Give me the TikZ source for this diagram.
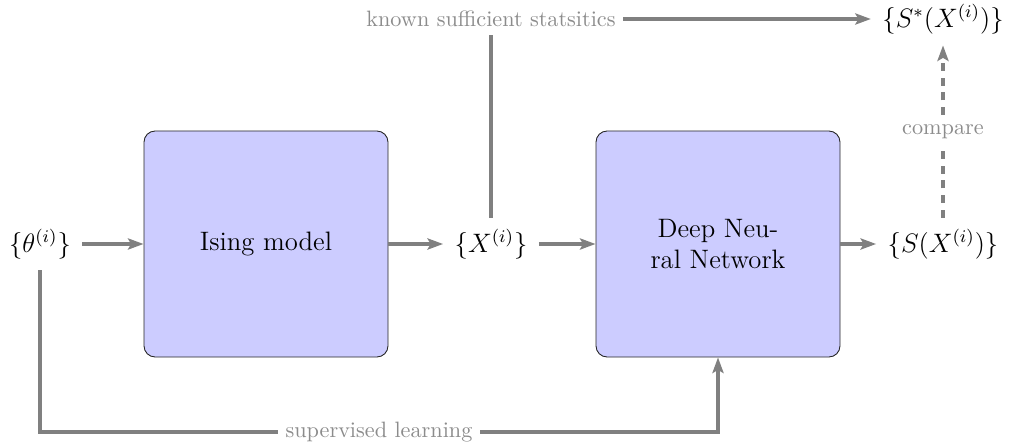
\documentclass[tikz,border=0pt]{standalone}
\usetikzlibrary{arrows.meta}
\begin{document}
\begin{tikzpicture}[x=0.45pt,y=-0.45pt,
  blockbox/.style={draw=black!85, fill=blue!20, rounded corners=5pt, minimum width=109.8pt, minimum height=101.7pt, align=center, font=\large, inner sep=0pt},
  mathnode/.style={font=\large, inner sep=5pt},
  lbl/.style={text=black!45, fill=white, font=\normalsize},
  conn/.style={draw=black!50, line width=1.5pt},
  arr/.style={conn, -{Stealth[length=7pt,width=5pt,inset=1.4pt]}}
]
\useasboundingbox (0,0) rectangle (1009,445);
\node[mathnode] (theta) at (40,244) {$\{\theta^{(i)}\}$};
\node[blockbox] (ising) at (266,244) {Ising model};
\node[mathnode] (X) at (491,244) {$\{X^{(i)}\}$};
\node[blockbox] (dnn) at (718,244) {Deep Neu-\\ral Network};
\node[mathnode] (S) at (943,244) {$\{S(X^{(i)})\}$};
\node[mathnode] (Sstar) at (943,19) {$\{S^{*}(X^{(i)})\}$};
\node[lbl] (kss) at (X |- Sstar) {known sufficient statsitics};
\coordinate (bl) at (40,432);
\coordinate (br) at (718,432);

\draw[arr] (theta) -- (ising);
\draw[arr] (ising) -- (X);
\draw[arr] (X) -- (dnn);
\draw[arr] (dnn) -- (S);
\draw[conn] (X) -- (kss);
\draw[arr] (kss) -- (Sstar);
\draw[arr, dash pattern=on 3.6pt off 3pt] (S) -- node[lbl] {compare} (Sstar);
\draw[arr] (theta.south) -- (bl) -- node[lbl] {supervised learning} (br) -- (dnn.south);
\end{tikzpicture}
\end{document}
